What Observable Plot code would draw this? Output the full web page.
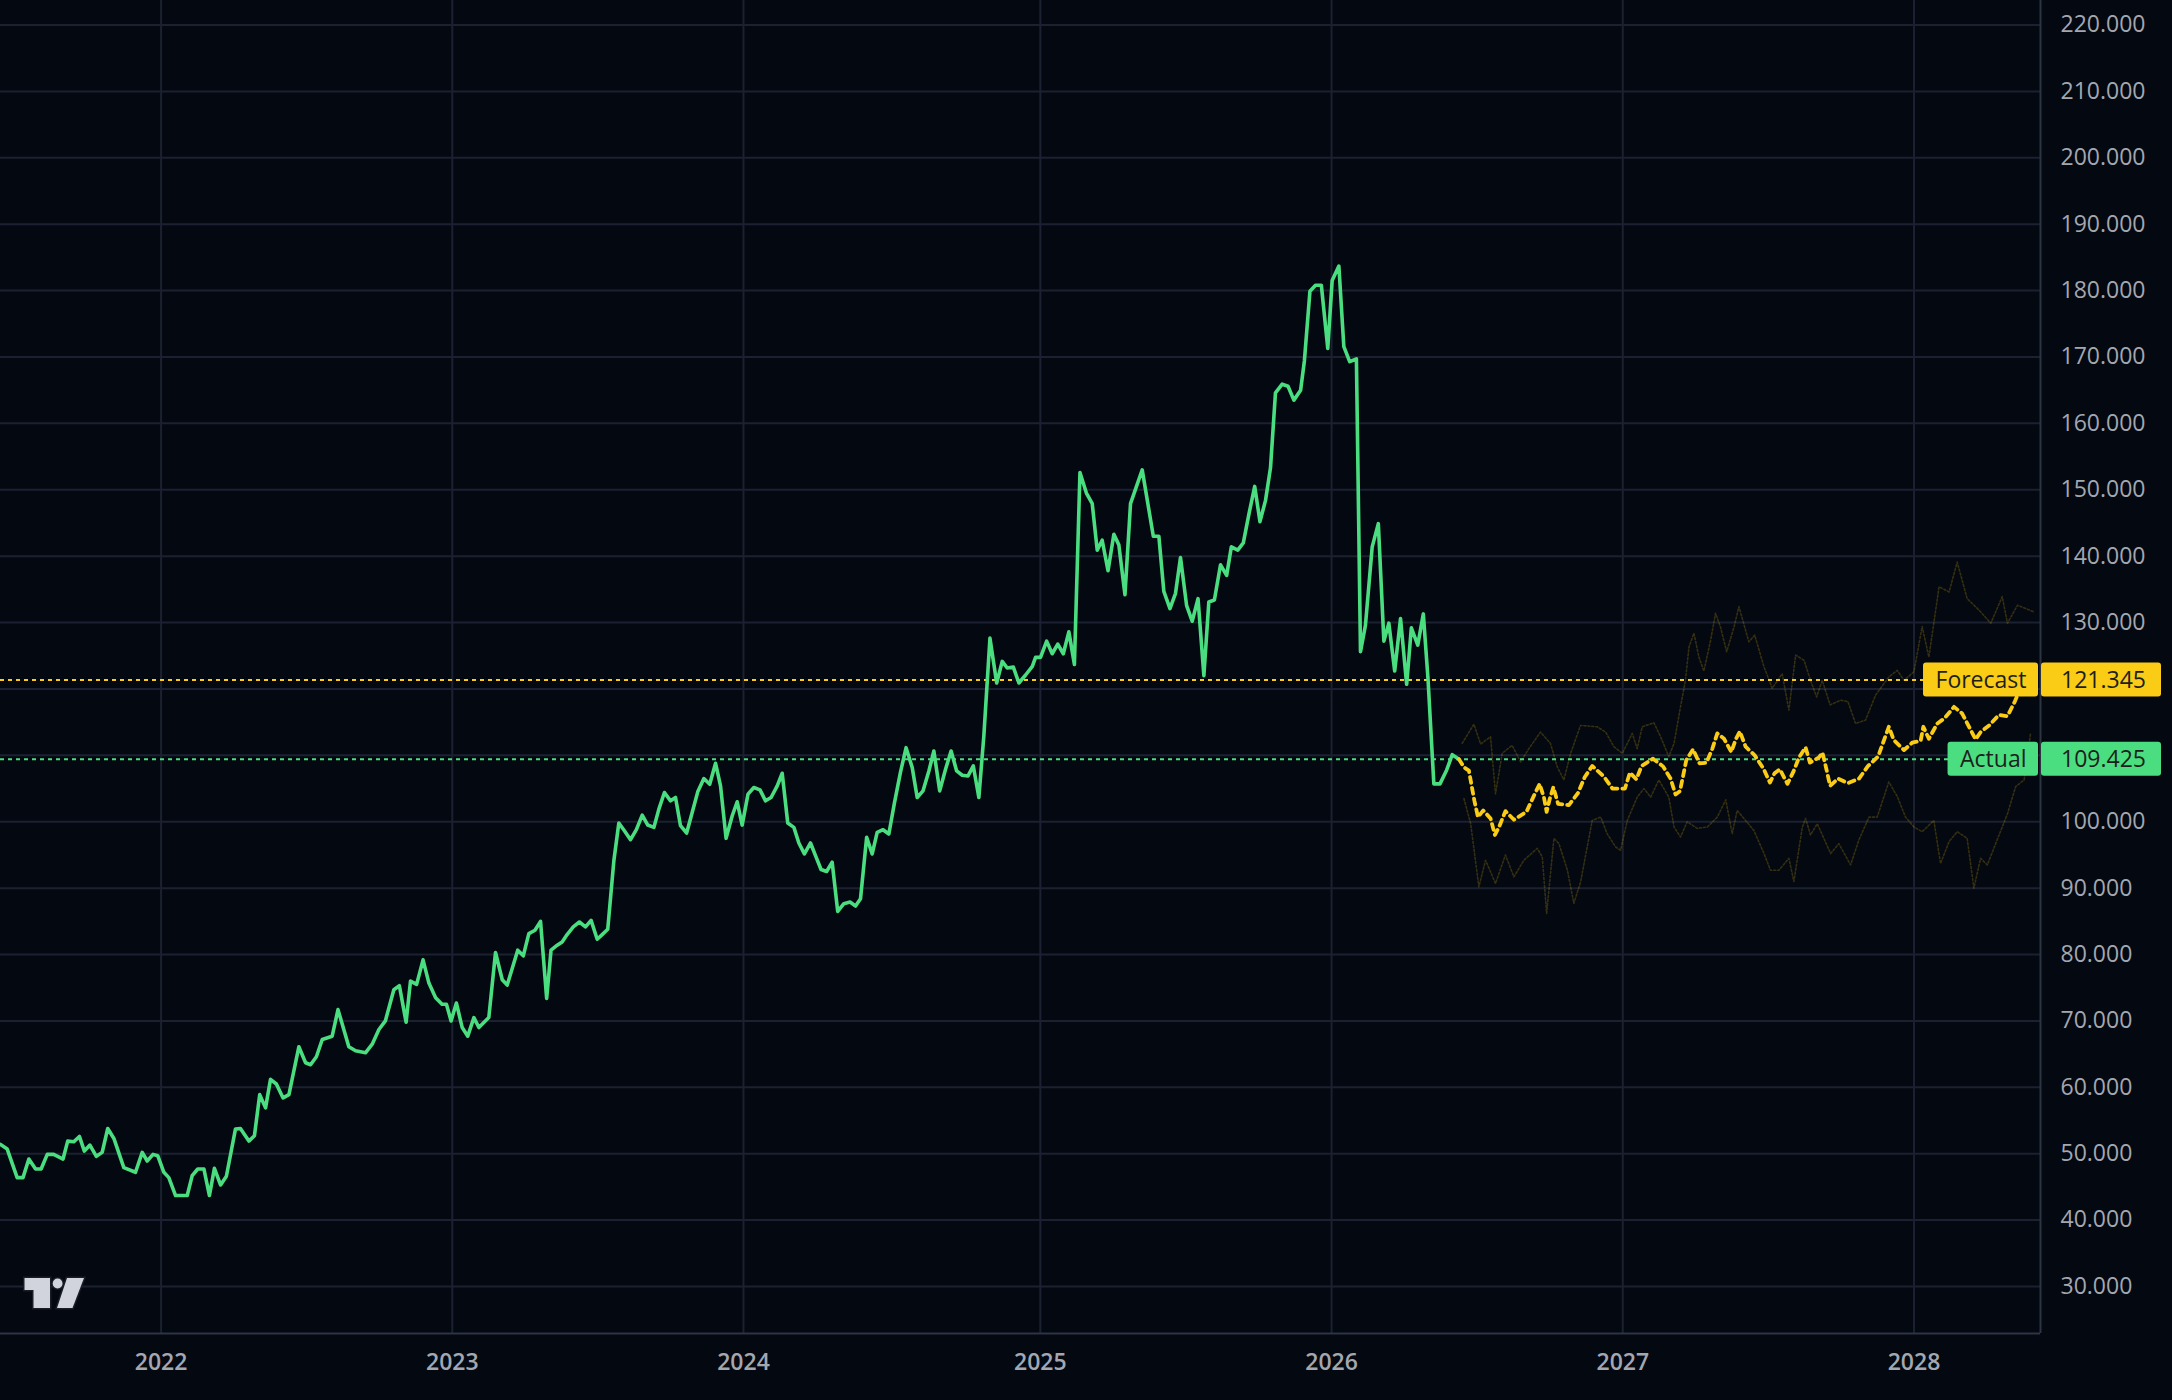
<!DOCTYPE html>
<html>
<head>
<meta charset="utf-8">
<script src="https://cdn.jsdelivr.net/npm/d3@7"></script>
<script src="https://cdn.jsdelivr.net/npm/@observablehq/plot@0.6"></script>
<style>
  html, body { margin: 0; padding: 0; background: #040811; }
  #chart { width: 2172px; height: 1400px; overflow: hidden; }
  svg { display: block; }
</style>
</head>
<body>
<div id="chart"></div>
<script>
// ---------- DATA (time as decimal years) ----------
const actualYear = [
  2021.456,2021.479,2021.513,2021.533,2021.553,2021.576,2021.595,2021.616,2021.638,2021.670,
  2021.686,2021.707,2021.726,2021.743,2021.762,2021.784,2021.804,2021.823,2021.844,2021.878,
  2021.918,2021.941,2021.958,2021.978,2021.994,2022.015,2022.032,2022.055,2022.095,2022.112,
  2022.131,2022.152,2022.171,2022.188,2022.209,2022.229,2022.260,2022.277,2022.306,2022.325,
  2022.343,2022.363,2022.380,2022.400,2022.423,2022.443,2022.477,2022.500,2022.517,2022.537,
  2022.557,2022.591,2022.611,2022.648,2022.671,2022.705,2022.728,2022.751,2022.773,2022.802,
  2022.821,2022.844,2022.859,2022.880,2022.902,2022.922,2022.945,2022.967,2022.982,2022.998,
  2023.016,2023.036,2023.055,2023.076,2023.093,2023.127,2023.150,2023.173,
  2023.190,2023.226,2023.245,2023.264,2023.285,2023.304,2023.325,2023.340,2023.361,2023.378,
  2023.395,2023.416,2023.437,2023.458,2023.477,2023.498,2023.515,2023.534,2023.555,2023.572,
  2023.591,2023.612,2023.632,2023.652,2023.671,2023.692,2023.709,2023.728,2023.749,2023.766,
  2023.783,2023.804,2023.823,2023.842,2023.863,2023.883,2023.903,2023.920,2023.939,2023.960,
  2023.977,2023.994,2024.014,2024.034,2024.055,2024.074,2024.093,2024.114,2024.131,2024.150,
  2024.171,2024.188,2024.207,2024.228,2024.245,2024.264,2024.283,2024.302,2024.321,2024.342,
  2024.363,2024.382,2024.399,2024.420,2024.439,2024.456,2024.476,2024.496,2024.515,2024.536,
  2024.555,2024.576,2024.593,2024.613,2024.633,2024.650,2024.670,2024.690,2024.709,2024.728,
  2024.747,2024.767,2024.785,2024.804,2024.821,2024.842,2024.865,2024.884,2024.901,2024.922,
  2024.941,
  2024.964,2024.987,2024.998,2025.015,2025.036,2025.055,2025.074,2025.093,2025.112,2025.131,
  2025.150,2025.172,2025.192,2025.209,2025.226,2025.246,2025.266,2025.283,2025.304,2025.323,
  2025.363,2025.401,2025.420,2025.437,2025.458,2025.477,2025.494,2025.515,2025.534,2025.554,
  2025.574,2025.591,2025.610,2025.631,2025.652,2025.668,2025.690,2025.709,2025.728,2025.748,
  2025.766,2025.785,2025.802,2025.819,2025.842,2025.862,2025.882,2025.905,2025.918,2025.937,
  2025.956,2025.976,2025.998,2026.013,2026.036,2026.053,2026.073,2026.096,2026.110,2026.127,
  2026.150,2026.171,2026.190,2026.207,2026.227,2026.247,2026.268,2026.284,2026.306,2026.325,
  2026.341,2026.361,2026.382,2026.405,2026.424,2026.447
];
const actualValue = [
  51.4,50.7,46.4,46.4,49.2,47.7,47.7,49.9,49.9,49.2,
  51.9,51.8,52.6,50.4,51.3,49.6,50.2,53.8,52.3,47.9,
  47.2,50.2,48.9,49.9,49.7,47.2,46.4,43.7,43.7,46.7,
  47.7,47.7,43.7,47.8,45.3,46.6,53.7,53.8,51.9,52.7,
  58.9,56.9,61.2,60.5,58.4,58.9,66.1,63.7,63.4,64.6,
  67.2,67.7,71.7,66.1,65.5,65.2,66.5,68.7,70.0,74.7,
  75.3,69.8,76.0,75.5,79.2,75.7,73.5,72.5,72.5,70.0,
  72.7,69.0,67.7,70.5,69.0,70.5,80.3,76.2,
  75.4,80.65,79.8,83.15,83.65,85.0,73.4,80.65,81.4,81.9,
  83.0,84.15,84.9,84.15,85.15,82.3,83.0,83.8,94.15,99.8,
  98.65,97.3,98.8,101.0,99.5,99.15,101.9,104.4,103.15,103.65,
  99.4,98.3,101.4,104.5,106.5,105.65,108.8,105.4,97.5,100.9,
  103.0,99.5,104.15,105.15,104.8,103.15,103.65,105.4,107.3,99.8,
  99.15,96.8,95.15,96.8,94.9,92.8,92.5,93.9,86.5,87.65,
  87.9,87.3,88.4,97.65,95.15,98.4,98.8,98.15,102.8,107.5,
  111.15,108.15,103.65,104.65,107.65,110.65,104.65,107.9,110.65,107.65,
  107.0,106.9,108.4,103.65,112.9,127.65,120.9,124.15,123.15,123.3,
  120.9,
  122.1,123.4,124.75,124.75,127.2,125.3,126.75,125.3,128.6,123.7,
  152.6,149.5,147.9,140.9,142.4,137.8,143.3,141.7,134.2,147.9,
  153.0,143.0,143.0,134.7,132.1,134.4,139.8,132.55,130.2,133.6,
  122.0,133.1,133.4,138.7,137.1,141.4,140.9,142.0,146.3,150.5,
  145.2,148.4,153.3,164.6,165.9,165.6,163.5,165.0,169.4,179.9,
  180.8,180.8,171.3,181.5,183.7,171.55,169.3,169.7,125.6,129.6,
  141.4,144.9,127.2,129.9,122.7,130.6,120.7,129.2,126.6,131.3,
  121.5,105.7,105.7,107.8,110.1,109.425
];

const forecastYear = [
  2026.447,2026.464,2026.481,2026.490,2026.500,2026.512,2026.530,2026.555,2026.570,2026.585,
  2026.606,2026.635,2026.678,2026.700,2026.723,2026.738,2026.747,2026.758,2026.770,2026.786,
  2026.823,2026.854,2026.877,2026.903,2026.943,2026.972,2027.015,2027.032,2027.054,2027.072,
  2027.111,2027.146,2027.171,2027.188,2027.203,2027.214,2027.225,2027.248,2027.270,2027.294,
  2027.314,2027.331,2027.354,2027.379,2027.394,2027.408,2027.428,2027.459,2027.489,2027.511,
  2027.527,2027.545,2027.571,2027.591,2027.611,2027.633,2027.648,2027.679,2027.691,2027.705,
  2027.717,2027.744,2027.778,2027.816,2027.847,2027.881,2027.918,2027.935,2027.970,2027.998,
  2028.027,2028.036,2028.055,2028.084,2028.109,2028.141,2028.169,2028.196,2028.215,2028.232,
  2028.261,2028.295,2028.324,2028.349,2028.381
];
const forecastValue = [
  109.425,108.2,107.7,105.5,103.1,100.7,101.7,100.5,98.0,99.3,
  101.6,100.3,101.5,103.6,105.7,103.6,101.5,103.5,105.2,102.7,
  102.5,104.3,106.7,108.4,106.8,105.0,105.0,107.4,106.4,108.4,
  109.5,108.3,106.5,104.1,104.6,106.9,109.3,110.9,108.8,108.9,
  111.0,113.3,112.5,110.5,112.4,113.6,111.3,110.0,108.0,105.9,
  107.3,107.9,105.7,107.5,109.7,111.2,108.9,109.7,110.4,107.8,
  105.4,106.5,105.8,106.5,108.4,109.8,114.3,112.3,110.8,111.9,
  112.2,114.3,112.5,114.8,115.6,117.3,116.3,114.0,112.4,113.5,
  114.5,116.1,115.9,118.1,121.345
];

const upperYear = [
  2026.458,2026.498,2026.521,2026.555,2026.572,2026.595,2026.629,2026.658,2026.686,2026.726,
  2026.760,2026.783,2026.806,2026.829,2026.863,2026.920,2026.949,2026.977,2027.006,2027.040,
  2027.057,2027.074,2027.114,2027.137,2027.165,2027.183,2027.205,2027.222,2027.234,2027.251,
  2027.268,2027.285,2027.308,2027.325,2027.342,2027.363,2027.388,2027.405,
  2027.439,2027.459,2027.491,2027.519,2027.553,2027.576,2027.599,2027.628,2027.650,2027.671,
  2027.690,2027.717,2027.753,2027.778,2027.804,2027.838,2027.873,2027.918,2027.947,2027.970,
  2028.004,2028.032,2028.055,2028.090,2028.124,2028.152,2028.186,2028.226,2028.267,2028.306,
  2028.324,2028.358,2028.387,2028.414
];
const upperValue = [
  111.8,114.7,111.7,112.8,104.2,110.3,111.5,109.0,111.0,113.5,
  111.8,108.3,106.3,110.3,114.5,114.3,113.5,111.3,110.3,113.3,
  111.0,114.3,114.9,112.8,109.8,111.8,117.3,121.3,126.3,128.4,
  124.8,122.7,127.3,131.4,129.3,125.6,129.3,132.4,
  127.1,128.1,123.3,120.1,122.3,116.8,125.1,124.3,121.3,118.8,
  121.3,117.6,118.3,118.1,114.8,115.3,119.1,121.8,122.8,121.3,
  122.6,129.4,124.8,135.4,134.6,139.1,133.6,131.9,129.9,133.9,
  129.9,132.6,132.1,131.6
];

const lowerYear = [
  2026.464,2026.487,2026.515,2026.538,2026.572,2026.606,2026.635,2026.669,2026.715,2026.732,
  2026.747,2026.772,2026.789,2026.818,2026.840,2026.863,2026.903,2026.932,2026.954,2026.983,
  2027.000,2027.023,2027.057,2027.080,2027.103,2027.131,2027.165,2027.183,2027.205,2027.228,
  2027.262,2027.297,2027.331,2027.360,2027.382,2027.399,
  2027.456,2027.491,2027.513,2027.542,2027.576,2027.593,2027.622,2027.633,2027.650,2027.673,
  2027.719,2027.747,2027.787,2027.816,2027.850,2027.878,2027.918,2027.947,2027.975,2028.004,
  2028.032,2028.072,2028.095,2028.124,2028.152,2028.186,2028.209,2028.232,2028.255,2028.289,
  2028.324,2028.352,2028.381,2028.403
];
const lowerValue = [
  103.5,99.7,90.2,94.2,90.7,95.0,91.7,94.2,96.0,94.7,
  86.2,97.5,96.7,92.7,87.7,90.9,100.2,100.7,98.2,96.2,
  95.7,100.2,103.7,105.0,103.7,106.3,103.7,99.2,97.7,100.0,
  99.0,99.2,100.7,103.3,98.2,101.7,
  98.7,95.2,92.7,92.7,94.5,91.0,99.2,100.5,98.0,99.7,
  95.2,96.7,93.5,97.3,100.7,100.7,106.0,103.8,100.7,99.2,
  98.5,100.2,93.7,97.0,98.5,97.5,90.0,94.5,93.5,97.3,
  101.2,105.3,106.3,113.3
];

const priceTicks = [30,40,50,60,70,80,90,100,110,120,130,140,150,160,170,180,190,200,210,220];
// first weekly bar of each year (where the year gridline and label sit)
const yearTickDates = ["2022-01-03","2023-01-02","2024-01-01","2025-01-06","2026-01-05","2027-01-04","2028-01-03"];
const yearTickLabels = ["2022","2023","2024","2025","2026","2027","2028"];
const forecastLast = 121.345;
const actualLast = 109.425;
const tagNames = ["Forecast", "Actual"];
const timeDomain = [2021.456, 2028.437];
const priceDomain = [22.92, 223.69];

// ---------- STYLE ----------
const BG = "#040811", GRID = "#1b2130", AXIS = "#2d3443", LABEL = "#a3a7b0";
const GREEN = "#4ade80", YELLOW = "#facc15", FAINT = "rgba(250,204,21,0.2)";
const TAGTEXT = "#1d1f1d";
const FONT = "'Open Sans', 'Noto Sans', sans-serif";

const toDate = yr => new Date(Date.UTC(2022, 0, 1) + (yr - 2022) * 365.25 * 864e5);
const rows = (ys, vs) => ys.map((y, i) => ({date: toDate(y), value: vs[i]}));
const actual = rows(actualYear, actualValue);
const forecast = rows(forecastYear, forecastValue);
const upper = rows(upperYear, upperValue);
const lower = rows(lowerYear, lowerValue);
const yearTicks = yearTickDates.map((d, i) => ({date: new Date(d + "T00:00:00Z"), label: yearTickLabels[i]}));
const fmt = d3.format(".3f");
// axis labels that sit under a price tag are hidden (as on the original)
const tagValues = [forecastLast, actualLast];
const visibleTicks = priceTicks.filter(t => tagValues.every(v => Math.abs(v - t) > 4));

const chart = Plot.plot({
  width: 2172,
  height: 1400,
  marginTop: 0,
  marginLeft: 0,
  marginRight: 132,
  marginBottom: 67,
  style: {background: BG, fontFamily: FONT, overflow: "visible"},
  x: {type: "utc", domain: timeDomain.map(toDate), axis: null},
  y: {domain: priceDomain, axis: null},
  marks: [
    Plot.ruleY(priceTicks, {stroke: GRID, strokeWidth: 2}),
    Plot.ruleX(yearTicks, {x: "date", stroke: GRID, strokeWidth: 2}),
    Plot.line(upper, {x: "date", y: "value", stroke: FAINT, strokeWidth: 1.6, strokeDasharray: "2,2"}),
    Plot.line(lower, {x: "date", y: "value", stroke: FAINT, strokeWidth: 1.6, strokeDasharray: "2,2"}),
    Plot.ruleY([forecastLast], {stroke: YELLOW, strokeWidth: 2, strokeDasharray: "4,4"}),
    Plot.ruleY([actualLast], {stroke: GREEN, strokeWidth: 2, strokeDasharray: "4,4"}),
    Plot.line(actual, {x: "date", y: "value", stroke: GREEN, strokeWidth: 3.6, strokeLinejoin: "round"}),
    Plot.line(forecast, {x: "date", y: "value", stroke: YELLOW, strokeWidth: 3.8, strokeDasharray: "6,5"}),
    Plot.ruleY([priceDomain[0]], {stroke: AXIS, strokeWidth: 2}),
    Plot.ruleX([toDate(timeDomain[1])], {stroke: AXIS, strokeWidth: 2}),
    Plot.text(visibleTicks, {y: d => d, text: d => fmt(d), frameAnchor: "right", dx: 20,
      textAnchor: "start", lineAnchor: "middle", fill: LABEL, fontSize: 23}),
    Plot.text(yearTicks, {x: "date", text: "label", frameAnchor: "bottom", lineAnchor: "middle",
      dy: 29, fill: LABEL, fontSize: 23, fontWeight: 600})
  ]
});
document.getElementById("chart").appendChild(chart);

// ---------- price tags on the right axis ----------
const svg = d3.select(chart);
const ys = chart.scale("y"), xs = chart.scale("x");
const xr = xs.range[1];
const tags = [
  {name: tagNames[0], value: forecastLast, color: YELLOW},
  {name: tagNames[1], value: actualLast, color: GREEN}
];
const tg = svg.append("g").attr("font-family", FONT).attr("font-size", 23).attr("text-anchor", "start");
for (const t of tags) {
  const cy = ys.apply(t.value);
  const g = tg.append("g");
  const r1 = g.append("rect");
  const r2 = g.append("rect");
  const nameText = g.append("text").text(t.name).attr("fill", TAGTEXT)
    .attr("text-anchor", "start").attr("y", cy).attr("dy", "0.36em");
  const w = nameText.node().getComputedTextLength();
  const tx = xr - 13.5 - w;
  nameText.attr("x", tx);
  r1.attr("x", tx - 12.5).attr("y", cy - 17).attr("width", w + 24).attr("height", 34)
    .attr("rx", 3).attr("fill", t.color);
  r2.attr("x", xr + 1).attr("y", cy - 17).attr("width", 120).attr("height", 34)
    .attr("rx", 3).attr("fill", t.color);
  g.append("text").text(fmt(t.value)).attr("fill", TAGTEXT).attr("text-anchor", "start")
    .attr("x", xr + 21).attr("y", cy).attr("dy", "0.36em");
}

// ---------- watermark logo ----------
const logo = svg.append("g").attr("fill", "#d1d4dc").attr("stroke", "#1a1d25")
  .attr("stroke-width", 3).attr("paint-order", "stroke").attr("stroke-linejoin", "miter");
logo.append("path").attr("d", "M24.5,1278 H50 V1308 H33.5 V1290 H24.5 Z");
logo.append("circle").attr("cx", 57.6).attr("cy", 1283.5).attr("r", 4.9);
logo.append("path").attr("d", "M67,1278 H84 L72.5,1308 H57 Z");
</script>
</body>
</html>
